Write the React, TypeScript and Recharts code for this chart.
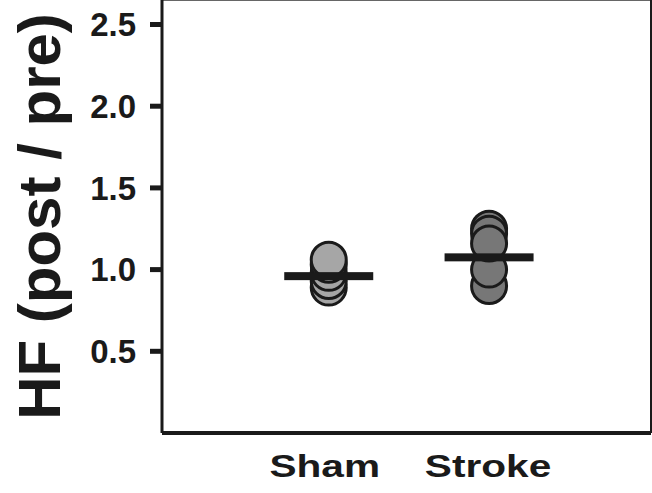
import React from "react";
import {
  ReferenceLine,
  Scatter,
  ScatterChart,
  XAxis,
  YAxis,
} from "recharts";

const categories = ["Sham", "Stroke"];
const shamValues = [0.89, 0.93, 0.98, 1.03, 1.06];
const strokeValues = [1.25, 1.22, 0.9, 1.0, 1.16];
const groupMeans = [0.96, 1.075];
const yTicks = [0.5, 1.0, 1.5, 2.0, 2.5];

const FONT = "'Liberation Sans', Arial, Helvetica, sans-serif";
const INK = "#1a1a1a";

const shamData = shamValues.map((y) => ({ x: 1, y }));
const strokeData = strokeValues.map((y) => ({ x: 2, y }));
const meanData = groupMeans.map((y, i) => ({ x: i + 1, y }));

function dot(fill: string) {
  return (props: any) => (
    <circle
      cx={props.cx}
      cy={props.cy}
      r={17.5}
      fill={fill}
      stroke={INK}
      strokeWidth={3}
    />
  );
}

function MeanBar(props: any) {
  return (
    <rect x={props.cx - 44.5} y={props.cy - 4} width={89} height={8} fill={INK} />
  );
}

function XTick(props: any) {
  const { x, y, payload } = props;
  const name = categories[payload.value - 1];
  const shift = payload.value === 1 ? -4 : -1;
  return (
    <g transform={`translate(${x + shift},${y + 43.5})`}>
      <text
        transform="scale(1.27,1)"
        textAnchor="middle"
        fontFamily={FONT}
        fontWeight="bold"
        fontSize={32}
        fill={INK}
      >
        {name}
      </text>
    </g>
  );
}

function YTitle(props: any) {
  const vb = props.viewBox || { y: 0, height: 433 };
  const cy = vb.y + vb.height / 2;
  return (
    <text
      x={60}
      y={cy}
      transform={`rotate(-90, 60, ${cy})`}
      textAnchor="middle"
      fontFamily={FONT}
      fontWeight="bold"
      fontSize={60}
      fill={INK}
    >
      HF (post / pre)
    </text>
  );
}

export default function App() {
  return (
    <div style={{ width: 652, height: 493, background: "#fff" }}>
      <style>{"body{margin:0}"}</style>
      <ScatterChart
        width={652}
        height={493}
        margin={{ top: 0, right: 1, bottom: 0, left: 0 }}
      >
        <XAxis
          type="number"
          dataKey="x"
          domain={[-0.04, 3.01]}
          ticks={[1, 2]}
          tickLine={false}
          tickSize={0}
          tickMargin={0}
          axisLine={{ stroke: INK, strokeWidth: 4 }}
          height={60}
          tick={<XTick />}
          allowDataOverflow
        />
        <YAxis
          type="number"
          dataKey="y"
          domain={[0, 2.65]}
          ticks={yTicks}
          tickFormatter={(v: number) => v.toFixed(1)}
          width={162}
          tickSize={12}
          tickMargin={14}
          tickLine={{ stroke: INK, strokeWidth: 5 }}
          axisLine={{ stroke: INK, strokeWidth: 3 }}
          tick={{ fontFamily: FONT, fontWeight: "bold", fontSize: 33, fill: INK }}
          label={<YTitle />}
          allowDataOverflow
        />
        <ReferenceLine y={2.65} stroke="#666" strokeWidth={2} />
        <ReferenceLine x={3.01} stroke={INK} strokeWidth={2} />
        <Scatter
          name="Sham"
          data={shamData}
          shape={dot("#a6a6a6")}
          isAnimationActive={false}
        />
        <Scatter
          name="Stroke"
          data={strokeData}
          shape={dot("#777777")}
          isAnimationActive={false}
        />
        <Scatter
          name="Mean"
          data={meanData}
          shape={<MeanBar />}
          isAnimationActive={false}
        />
      </ScatterChart>
    </div>
  );
}
